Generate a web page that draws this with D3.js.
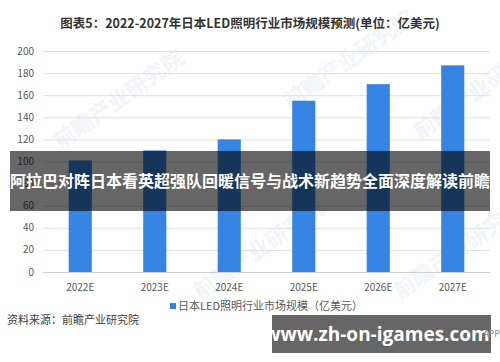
<!DOCTYPE html>
<html><head><meta charset="utf-8">
<script src="https://cdn.jsdelivr.net/npm/d3@7"></script>
<style>body{margin:0;background:#fff}svg{display:block}</style>
</head><body>
<svg id="c" width="500" height="362"></svg>
<script>
const categories = ["2022E","2023E","2024E","2025E","2026E","2027E"];
const values = [101,110,120,155,170,187];
const yTicks = [0,20,40,60,80,100,120,140,160,180,200];
const title = "图表5：2022-2027年日本LED照明行业市场规模预测(单位：亿美元)";
const legendLabel = "日本LED照明行业市场规模（亿美元）";
const source = "资料来源：前瞻产业研究院";
const overlayText = "阿拉巴对阵日本看英超强队回暖信号与战术新趋势全面深度解读前瞻";
const siteText = "www.zh-on-igames.com";
const watermarkText = "前瞻产业研究院";

const svg = d3.select("#c");
const font = "'Noto Sans CJK SC','Noto Sans',sans-serif";
const x = d3.scaleBand().domain(categories).range([43,490]).paddingInner(0.69).paddingOuter(0.345);
const y = d3.scaleLinear().domain([0,200]).range([272,51]);

// faint watermarks
const wm = svg.append("g").attr("fill","#f1f4f8").attr("font-family",font).attr("font-weight","bold");
[[60,150],[200,300],[290,110],[400,300],[420,140]].forEach(([wx,wy])=>{
  wm.append("text").attr("transform",`translate(${wx},${wy}) rotate(-35)`).attr("font-size",22).text(watermarkText);
});

svg.append("text").attr("x",250).attr("y",28).attr("text-anchor","middle")
  .attr("font-family",font).attr("font-weight","bold").attr("font-size",12.5).attr("fill","#333").text(title);

// grid
const g = svg.append("g");
g.selectAll("line.grid").data(yTicks).join("line")
  .attr("x1",43).attr("x2",490).attr("y1",d=>y(d)+0.5).attr("y2",d=>y(d)+0.5)
  .attr("stroke",d=>d===0?"#d0d0d0":"#e0e0e0").attr("stroke-width",1);
g.selectAll("text.yt").data(yTicks).join("text")
  .attr("x",34).attr("y",d=>y(d)).attr("dy","0.35em").attr("text-anchor","end")
  .attr("font-family",font).attr("font-size",10).attr("fill","#595959").text(d=>d);

g.selectAll("rect.bar").data(values).join("rect")
  .attr("x",(d,i)=>x(categories[i])).attr("width",x.bandwidth())
  .attr("y",d=>y(d)).attr("height",d=>y(0)-y(d)).attr("fill","#3584e4");

g.selectAll("text.xt").data(categories).join("text")
  .attr("x",d=>x(d)+x.bandwidth()/2).attr("y",287).attr("dy","0.35em").attr("text-anchor","middle")
  .attr("font-family",font).attr("font-size",10).attr("fill","#595959").text(d=>d);

// legend
svg.append("rect").attr("x",170).attr("y",303).attr("width",6).attr("height",6).attr("fill","#3584e4");
svg.append("text").attr("x",178).attr("y",306).attr("dy","0.35em").attr("font-family",font)
  .attr("font-size",11).attr("fill","#595959").text(legendLabel);

svg.append("text").attr("x",7).attr("y",320).attr("dy","0.35em").attr("font-family",font)
  .attr("font-size",11).attr("fill","#404040").text(source);

// overlay band
svg.append("rect").attr("x",10).attr("y",151).attr("width",480).attr("height",60).attr("fill","rgba(0,0,0,0.6)");
svg.append("text").attr("x",250).attr("y",181).attr("dy","0.35em").attr("text-anchor","middle")
  .attr("font-family",font).attr("font-weight","bold").attr("font-size",16).attr("fill","#fff")
  .attr("textLength",480).attr("lengthAdjust","spacingAndGlyphs").text(overlayText);

svg.append("rect").attr("x",272).attr("y",315).attr("width",219).attr("height",38).attr("fill","#666");
svg.append("text").attr("x",377).attr("y",334).attr("dy","0.35em").attr("text-anchor","middle")
  .attr("font-family","'Open Sans',sans-serif").attr("font-weight","bold").attr("font-size",19).attr("fill","#fff")
  .text(siteText);
svg.append("text").attr("x",500).attr("y",334).attr("dy","0.35em").attr("text-anchor","end").attr("font-family",font)
  .attr("font-size",9).attr("fill","#7a8aa0").text("APP");
</script>
</body></html>
